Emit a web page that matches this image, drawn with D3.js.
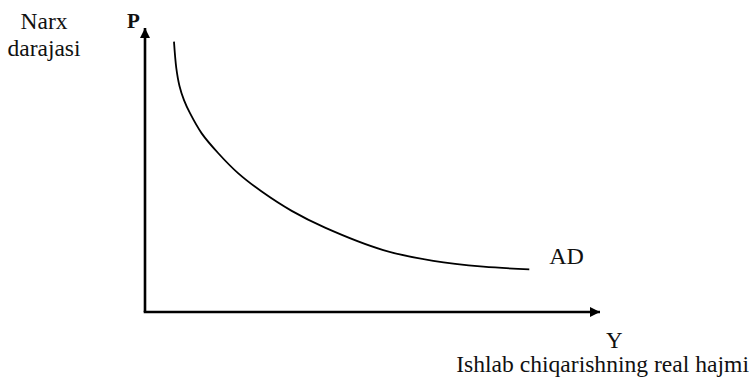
<!DOCTYPE html>
<html>
<head>
<meta charset="utf-8">
<script src="https://cdn.jsdelivr.net/npm/d3@7"></script>
<style>
  html, body { margin: 0; padding: 0; background: #fff; }
  svg { display: block; }
  text { font-family: "Liberation Serif", "Times New Roman", serif; fill: #111; }
</style>
</head>
<body>
<svg id="chart" width="751" height="377"></svg>
<script>
// Aggregate demand curve: real output (Y) vs price level (P), relative units
const outputY = [6.37, 6.88, 7.58, 8.57, 9.89, 12.46, 16.11, 20.51, 25.65, 32.24, 39.56, 52.37, 63.36, 74.35, 84.46];
const priceP  = [95.2, 85.9, 79.6, 74.6, 70.0, 62.9, 55.9, 48.8, 42.4, 35.6, 29.7, 21.8, 18.0, 15.95, 15.04];
const curveLabel = "AD";
const axisLabels = { x: "Y", y: "P" };
const axisTitles = { x: ["Ishlab chiqarishning real hajmi"], y: ["Narx", "darajasi"] };

const svg = d3.select("#chart");
const x = d3.scaleLinear().domain([0, 100]).range([145, 600]);
const y = d3.scaleLinear().domain([0, 100]).range([312, 28]);

// Arrow heads for the axes
const defs = svg.append("defs");
defs.append("marker")
  .attr("id", "arrow")
  .attr("viewBox", "0 0 10 10")
  .attr("refX", 10).attr("refY", 5)
  .attr("markerWidth", 10).attr("markerHeight", 10)
  .attr("markerUnits", "userSpaceOnUse")
  .attr("orient", "auto")
  .append("path")
  .attr("d", "M0,0 L10,5 L0,10 Z")
  .attr("fill", "#000");

// Axes
svg.append("line")
  .attr("x1", x(0)).attr("y1", y(0))
  .attr("x2", x(0)).attr("y2", y(100))
  .attr("stroke", "#000").attr("stroke-width", 2.6)
  .attr("marker-end", "url(#arrow)");
svg.append("line")
  .attr("x1", x(0) - 1.3).attr("y1", y(0))
  .attr("x2", x(100)).attr("y2", y(0))
  .attr("stroke", "#000").attr("stroke-width", 2.6)
  .attr("marker-end", "url(#arrow)");

// AD curve
const pts = outputY.map((v, i) => [v, priceP[i]]);
const line = d3.line()
  .x(d => x(d[0])).y(d => y(d[1]))
  .curve(d3.curveCatmullRom.alpha(0.5));
svg.append("path")
  .datum(pts)
  .attr("d", line)
  .attr("fill", "none")
  .attr("stroke", "#000")
  .attr("stroke-width", 1.8);

// Labels
const last = pts[pts.length - 1];
svg.append("text")
  .attr("x", x(last[0]) + 20).attr("y", y(last[1]) - 5)
  .attr("font-size", 24)
  .text(curveLabel);

svg.append("text")
  .attr("x", x(0) - 18).attr("y", y(100))
  .attr("font-size", 21).attr("font-weight", "bold")
  .text(axisLabels.y);

svg.append("text")
  .attr("x", x(100) + 6).attr("y", y(0) + 36)
  .attr("font-size", 23)
  .text(axisLabels.x);

svg.append("text")
  .attr("x", 749).attr("y", 372)
  .attr("text-anchor", "end")
  .attr("font-size", 23.6)
  .text(axisTitles.x[0]);

svg.selectAll("text.ytitle")
  .data(axisTitles.y)
  .join("text")
  .attr("class", "ytitle")
  .attr("x", 44)
  .attr("y", (d, i) => 29 + i * 27)
  .attr("text-anchor", "middle")
  .attr("font-size", 23.5)
  .text(d => d);
</script>
</body>
</html>
